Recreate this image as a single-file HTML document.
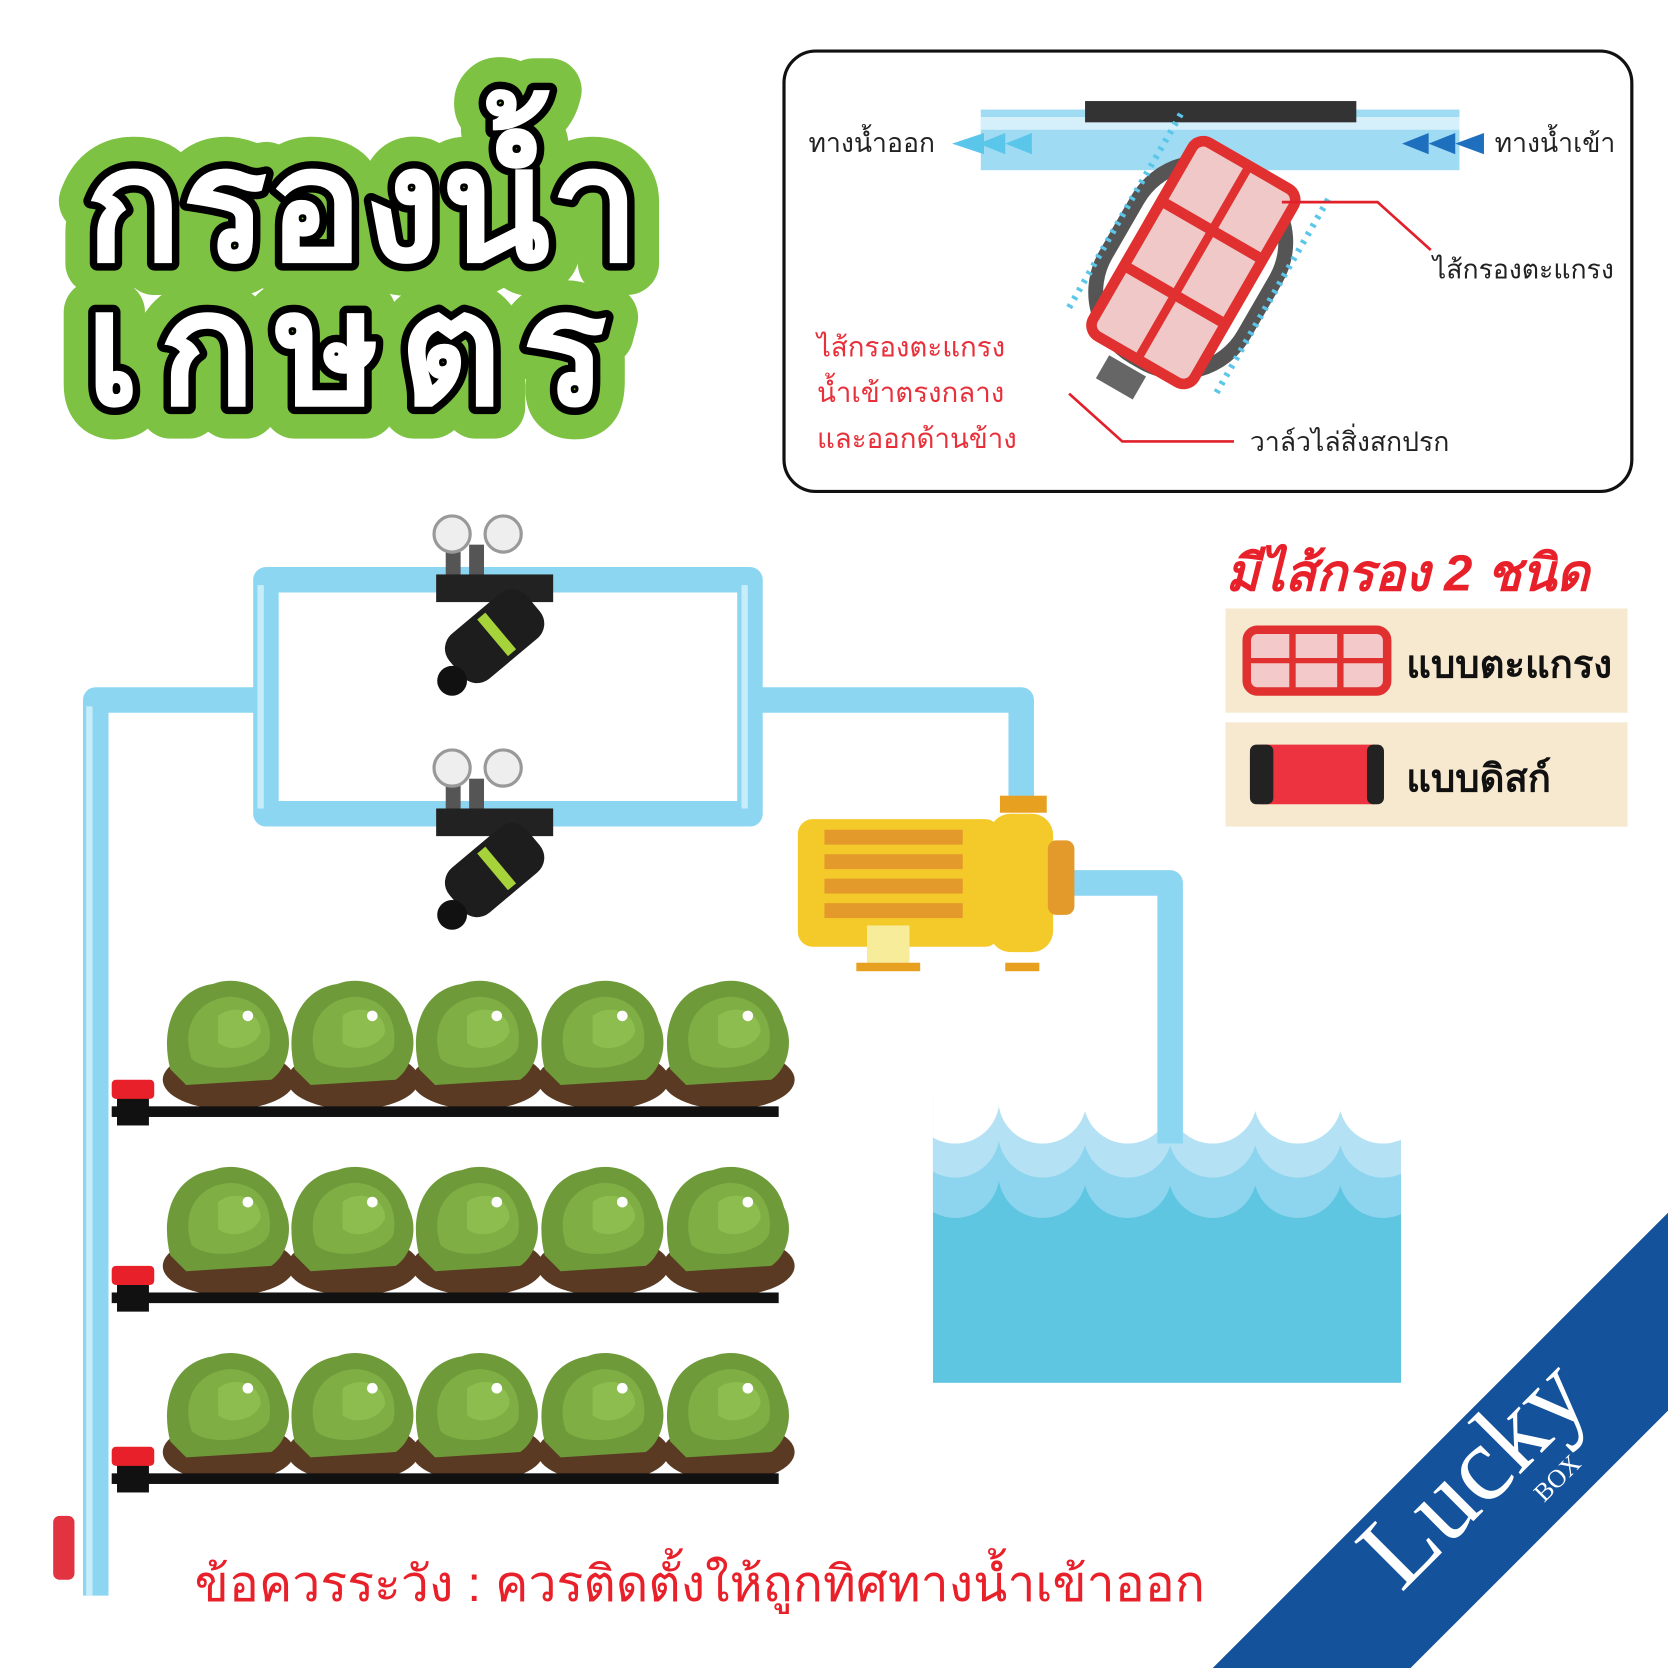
<!DOCTYPE html>
<html><head><meta charset="utf-8"><style>
html,body{margin:0;padding:0;background:#fff;width:1668px;height:1668px;overflow:hidden}
svg{display:block}
.th{font-family:"Liberation Sans","Noto Sans CJK SC",sans-serif}
</style></head><body>
<svg width="1668" height="1668" viewBox="0 0 1568 1568" xmlns="http://www.w3.org/2000/svg" class="th">
<defs>
<g id="let">
<ellipse cx="0" cy="40" rx="62" ry="28" fill="#5a3a22"/>
<path d="M-55,30 C-65,-10 -50,-45 -15,-50 C10,-60 45,-45 52,-15 C62,5 55,30 40,40 L-40,45 Z" fill="#6e9a3a"/>
<path d="M-35,20 C-45,-10 -30,-35 0,-38 C30,-38 42,-15 38,10 C30,30 -20,35 -35,20Z" fill="#7fae44"/>
<path d="M-10,-20 C5,-32 30,-25 30,-5 C25,10 0,15 -10,5Z" fill="#8cbd4e"/>
<circle cx="18" cy="-20" r="5" fill="#fff"/>
</g>
<g id="filt">
<rect x="-16" y="-68" width="14" height="30" fill="#555"/><rect x="6" y="-68" width="14" height="30" fill="#555"/>
<circle cx="-10" cy="-78" r="17" fill="#eee" stroke="#999" stroke-width="3"/>
<circle cx="38" cy="-78" r="17" fill="#eee" stroke="#999" stroke-width="3"/>
<rect x="-25" y="-40" width="110" height="26" fill="#222"/>
<g transform="rotate(-40 20 10)"><rect x="-25" y="-5" width="95" height="55" rx="18" fill="#1d1d1d"/><rect x="20" y="0" width="10" height="45" fill="#a6d33a"/></g>
<circle cx="-10" cy="60" r="14" fill="#111"/>
</g>
<g id="scal">
<circle cx="898" cy="0" r="41.5"/><circle cx="980" cy="0" r="41.5"/><circle cx="1060" cy="0" r="41.5"/><circle cx="1140" cy="0" r="41.5"/><circle cx="1220" cy="0" r="41.5"/><circle cx="1300" cy="0" r="41.5"/><circle cx="1340" cy="0" r="41.5"/>
</g>
<clipPath id="wc"><rect x="877" y="990" width="440" height="310"/></clipPath>
</defs>

<!-- Title -->
<g font-weight="bold" font-size="150">
<text x="80" y="245" fill="#7dc242" stroke="#7dc242" stroke-width="60" stroke-linejoin="round">กรองน้ำ</text>
<text x="80" y="380" fill="#7dc242" stroke="#7dc242" stroke-width="60" stroke-linejoin="round" letter-spacing="18">เกษตร</text>
<text x="80" y="245" fill="#fff" stroke="#000" stroke-width="14" stroke-linejoin="round" paint-order="stroke">กรองน้ำ</text>
<text x="80" y="380" fill="#fff" stroke="#000" stroke-width="14" stroke-linejoin="round" paint-order="stroke" letter-spacing="18">เกษตร</text>
</g>

<!-- Top-right box -->
<rect x="737" y="48" width="797" height="414" rx="30" fill="#fff" stroke="#111" stroke-width="3"/>
<rect x="922" y="103" width="450" height="57" fill="#9fdcf3"/>
<rect x="922" y="110" width="450" height="12" fill="#d5f0fa"/>
<rect x="1020" y="95" width="255" height="20" fill="#333"/>
<polygon points="895,135 925,125 925,145" fill="#5ac6ea"/><polygon points="920,135 945,125 945,145" fill="#5ac6ea"/><polygon points="945,135 970,125 970,145" fill="#5ac6ea"/>
<polygon points="1318,135 1343,125 1343,145" fill="#1f6fbf"/><polygon points="1343,135 1368,125 1368,145" fill="#1f6fbf"/><polygon points="1368,135 1395,125 1395,145" fill="#1f6fbf"/>
<g transform="rotate(30 1120 240)">
<rect x="1050" y="150" width="150" height="200" rx="70" fill="none" stroke="#555" stroke-width="14"/>
<rect x="1070" y="140" width="110" height="210" rx="12" fill="#f0c8c8" stroke="#e03030" stroke-width="10"/>
<line x1="1070" y1="210" x2="1180" y2="210" stroke="#e03030" stroke-width="10"/>
<line x1="1070" y1="280" x2="1180" y2="280" stroke="#e03030" stroke-width="10"/>
<line x1="1125" y1="140" x2="1125" y2="350" stroke="#e03030" stroke-width="8"/>
<line x1="1045" y1="130" x2="1045" y2="340" stroke="#5ac6ea" stroke-width="6" stroke-dasharray="3 6"/>
<line x1="1205" y1="130" x2="1205" y2="340" stroke="#5ac6ea" stroke-width="6" stroke-dasharray="3 6"/>
<rect x="1100" y="360" width="40" height="25" fill="#666"/>
</g>
<polyline points="1205,190 1295,190 1345,235" fill="none" stroke="#e0202a" stroke-width="2.5"/>
<polyline points="1005,370 1055,415 1160,415" fill="none" stroke="#e0202a" stroke-width="2.5"/>
<g font-size="25" fill="#222">
<text x="760" y="143">ทางน้ำออก</text>
<text x="1405" y="143">ทางน้ำเข้า</text>
<text x="1347" y="262">ไส้กรองตะแกรง</text>
<text x="1175" y="424">วาล์วไล่สิ่งสกปรก</text>
</g>
<g font-size="26" fill="#e8303a">
<text x="768" y="335">ไส้กรองตะแกรง</text>
<text x="768" y="378">น้ำเข้าตรงกลาง</text>
<text x="768" y="421">และออกด้านข้าง</text>
</g>

<!-- filter types -->
<text x="1152" y="555" font-size="48" font-weight="bold" font-style="italic" fill="#e8202a">มีไส้กรอง 2 ชนิด</text>
<rect x="1152" y="572" width="378" height="98" fill="#f6e9cf"/>
<rect x="1152" y="679" width="378" height="98" fill="#f6e9cf"/>
<rect x="1172" y="592" width="132" height="58" rx="10" fill="#f3c9c9" stroke="#e03030" stroke-width="8"/>
<line x1="1215" y1="592" x2="1215" y2="650" stroke="#e03030" stroke-width="6"/><line x1="1260" y1="592" x2="1260" y2="650" stroke="#e03030" stroke-width="6"/><line x1="1172" y1="621" x2="1304" y2="621" stroke="#e03030" stroke-width="5"/>
<rect x="1175" y="700" width="126" height="56" rx="10" fill="#ee3340"/>
<rect x="1175" y="700" width="22" height="56" rx="6" fill="#222"/><rect x="1285" y="700" width="16" height="56" rx="6" fill="#222"/>
<g font-size="36" font-weight="bold" fill="#111">
<text x="1322" y="637">แบบตะแกรง</text>
<text x="1322" y="744">แบบดิสก์</text>
</g>

<!-- water -->
<g clip-path="url(#wc)">
<rect x="877" y="1030" width="440" height="270" fill="#5ec6e0"/>
<rect x="877" y="1030" width="440" height="72" fill="#8dd4ee"/>
<use href="#scal" y="1103.5" fill="#8dd4ee"/>
<rect x="877" y="1030" width="440" height="34" fill="#b4e2f4"/>
<use href="#scal" y="1065.5" fill="#b4e2f4"/>
<rect x="877" y="990" width="440" height="43.5" fill="#fff"/>
<use href="#scal" y="1033.5" fill="#fff"/>
</g>

<!-- pipes -->
<g fill="none" stroke="#8dd6f2" stroke-width="24" stroke-linejoin="round">
<path d="M90,1500 L90,658 L250,658"/>
<path d="M250,545 L250,765 L705,765 L705,545 Z"/>
<path d="M705,658 L960,658 L960,760"/>
<path d="M1005,830 L1100,830 L1100,1075"/>
</g>
<g fill="none" stroke="#c7ecfa" stroke-width="6">
<path d="M84,1500 L84,664"/><path d="M245,550 L245,760"/><path d="M700,550 L700,760"/>
</g>
<rect x="50" y="1425" width="20" height="60" rx="6" fill="#e23340"/>
<use href="#filt" x="435" y="580"/>
<use href="#filt" x="435" y="800"/>

<!-- pump -->
<rect x="940" y="748" width="44" height="16" fill="#e8a020"/>
<rect x="750" y="770" width="190" height="120" rx="14" fill="#f4c92a"/>
<g fill="#e39a2a"><rect x="775" y="780" width="130" height="14"/><rect x="775" y="803" width="130" height="14"/><rect x="775" y="826" width="130" height="14"/><rect x="775" y="849" width="130" height="14"/></g>
<rect x="930" y="765" width="60" height="130" rx="20" fill="#f4c92a"/>
<rect x="985" y="790" width="25" height="70" rx="8" fill="#e39a2a"/>
<rect x="815" y="870" width="40" height="35" fill="#f7ec9a"/>
<rect x="805" y="905" width="60" height="8" fill="#e8a020"/><rect x="945" y="905" width="32" height="8" fill="#e8a020"/>

<!-- lettuce rows -->
<g>
<use href="#let" x="215" y="975"/><use href="#let" x="332" y="975"/><use href="#let" x="449" y="975"/><use href="#let" x="567" y="975"/><use href="#let" x="685" y="975"/>
<use href="#let" x="215" y="1150"/><use href="#let" x="332" y="1150"/><use href="#let" x="449" y="1150"/><use href="#let" x="567" y="1150"/><use href="#let" x="685" y="1150"/>
<use href="#let" x="215" y="1325"/><use href="#let" x="332" y="1325"/><use href="#let" x="449" y="1325"/><use href="#let" x="567" y="1325"/><use href="#let" x="685" y="1325"/>
</g>
<g fill="#111">
<rect x="105" y="1040" width="627" height="10"/><rect x="105" y="1215" width="627" height="10"/><rect x="105" y="1385" width="627" height="10"/>
<rect x="110" y="1032" width="30" height="26"/><rect x="110" y="1207" width="30" height="26"/><rect x="110" y="1377" width="30" height="26"/>
</g>
<g fill="#e8202a"><rect x="105" y="1015" width="40" height="18" rx="4"/><rect x="105" y="1190" width="40" height="18" rx="4"/><rect x="105" y="1360" width="40" height="18" rx="4"/></g>

<text x="183" y="1505" font-size="47" fill="#e8202a">ข้อควรระวัง : ควรติดตั้งให้ถูกทิศทางน้ำเข้าออก</text>

<!-- banner -->
<polygon points="1140,1568 1568,1140 1568,1326 1326,1568" fill="#14529b"/>
<g transform="translate(1395,1420) rotate(-45)">
<text x="-110" y="0" font-family="Liberation Serif,serif" font-size="100" fill="#fff">Lucky</text>
<text x="45" y="35" font-family="Liberation Serif,serif" font-size="24" fill="#fff">BOX</text>
</g>
</svg>
</body></html>
